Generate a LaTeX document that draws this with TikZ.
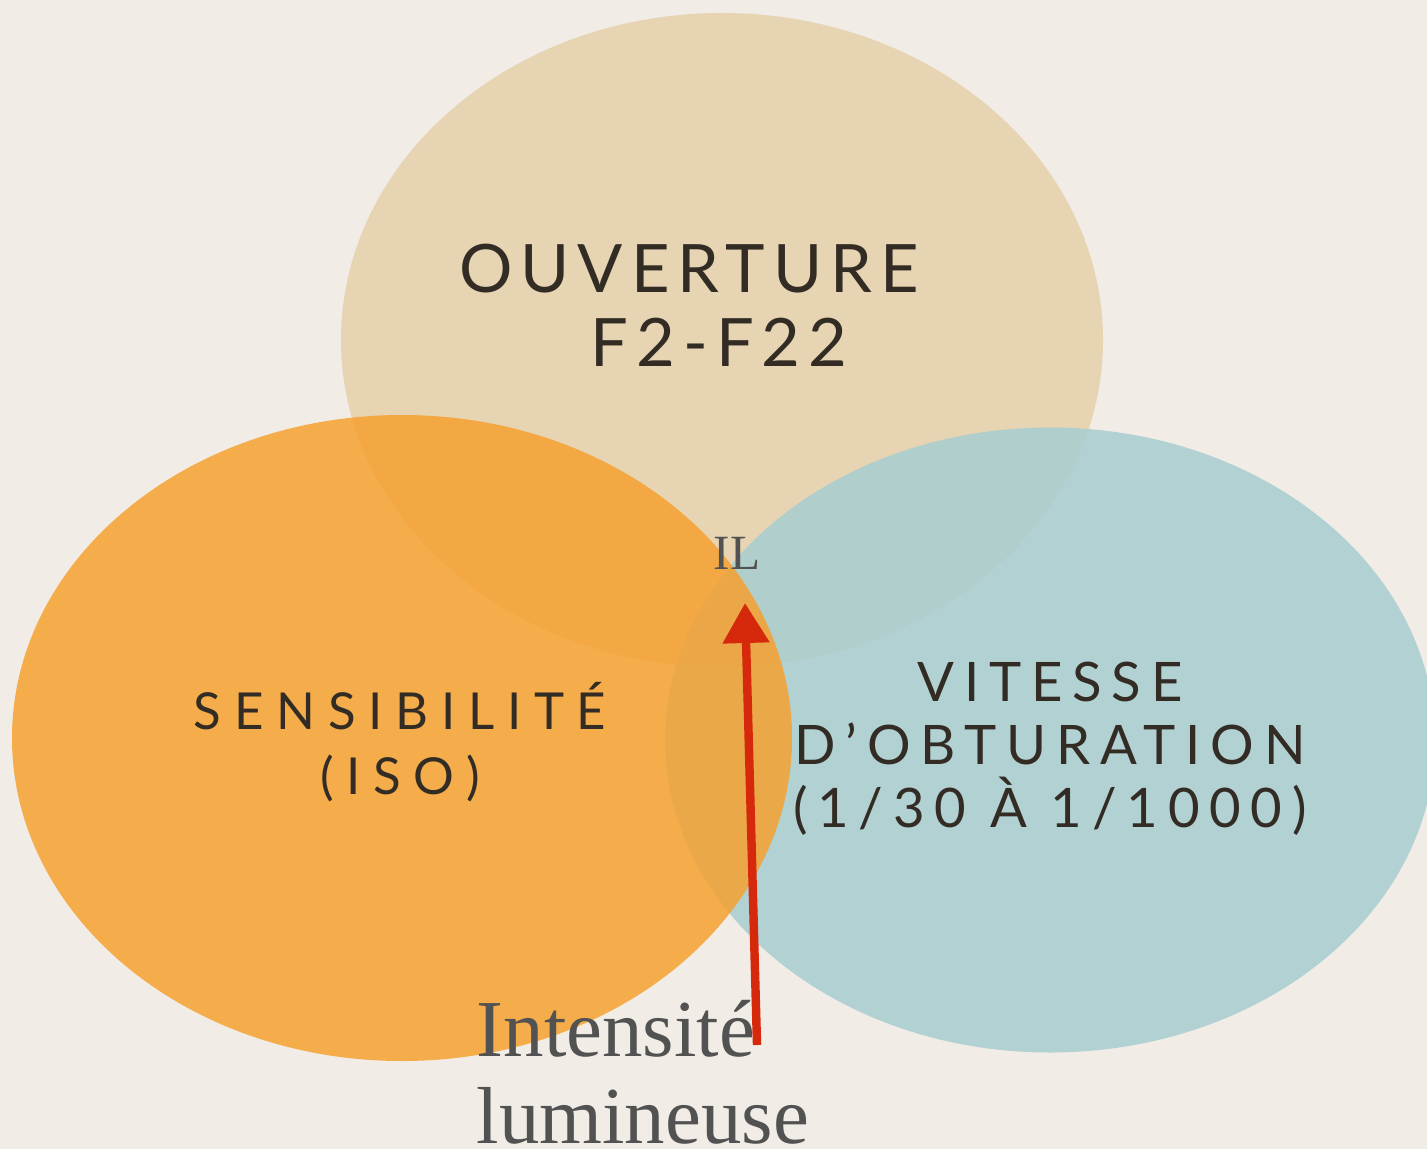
\documentclass[tikz,border=0pt]{standalone}
\usepackage{fontspec}
\setmainfont{Liberation Serif}
\setsansfont{Lato}
\usepackage{tikz}
\usetikzlibrary{shapes.geometric,arrows.meta}

\definecolor{bgpaper}{RGB}{241,236,229}
\definecolor{tan}{RGB}{230,212,178}
\definecolor{orangeiso}{RGB}{246,161,48}
\definecolor{bluevit}{RGB}{167,205,209}
\definecolor{inkdark}{RGB}{50,44,36}
\definecolor{inkgray}{RGB}{82,82,82}
\definecolor{redpen}{RGB}{214,40,10}

\begin{document}
\begin{tikzpicture}[
    circ/.style = {ellipse, draw=none, inner sep=0pt, outer sep=0pt},
    caps/.style = {text=inkdark, align=center, font=\sffamily},
    pen/.style = {draw=redpen, line width=2.4pt, -{Triangle[width=0.45cm,length=0.4cm]}}]
    \fill[bgpaper] (0,0) rectangle (14.27,-11.49);
    \useasboundingbox (0,0) rectangle (14.27,-11.49);

    \node[circ, fill=tan, minimum width=7.62cm, minimum height=6.54cm] (ouv) at (7.22,-3.40) {};
    \node[circ, fill=bluevit, fill opacity=0.85, minimum width=7.70cm, minimum height=6.25cm] (vit) at (10.50,-7.40) {};
    \node[circ, fill=orangeiso, fill opacity=0.85, minimum width=7.80cm, minimum height=6.46cm] (sens) at (4.02,-7.38) {};

    \node[caps, font=\sffamily\fontsize{19}{21}\selectfont\addfontfeatures{LetterSpace=12}] (ouvtxt) at (6.89,-3.05) {OUVERTURE\\\hspace*{0.6cm}F2-F22};
    \node[caps, font=\sffamily\fontsize{14.5}{18.4}\selectfont\addfontfeatures{LetterSpace=25}] (senstxt) at (4.00,-7.42) {SENSIBILITÉ\\(ISO)};
    \node[caps, font=\sffamily\fontsize{15.5}{17.9}\selectfont\addfontfeatures{LetterSpace=18}] (vittxt) at (10.50,-7.49) {VITESSE\\D’OBTURATION\\(1/30 À 1/1000)};

    \node[text=inkgray, font=\fontsize{14}{16}\selectfont] (IL) at (7.37,-5.53) {IL};
    \node[text=inkgray, align=left, anchor=north west, inner sep=0pt, font=\fontsize{23}{24.5}\selectfont] (intens) at (4.76,-10.00) {Intensité\\lumineuse};

    \coordinate (tail) at (7.57,-10.45);
    \coordinate (tip) at (7.45,-6.03);
    \draw[pen] (tail) -- (tip);

\end{tikzpicture}
\end{document}
